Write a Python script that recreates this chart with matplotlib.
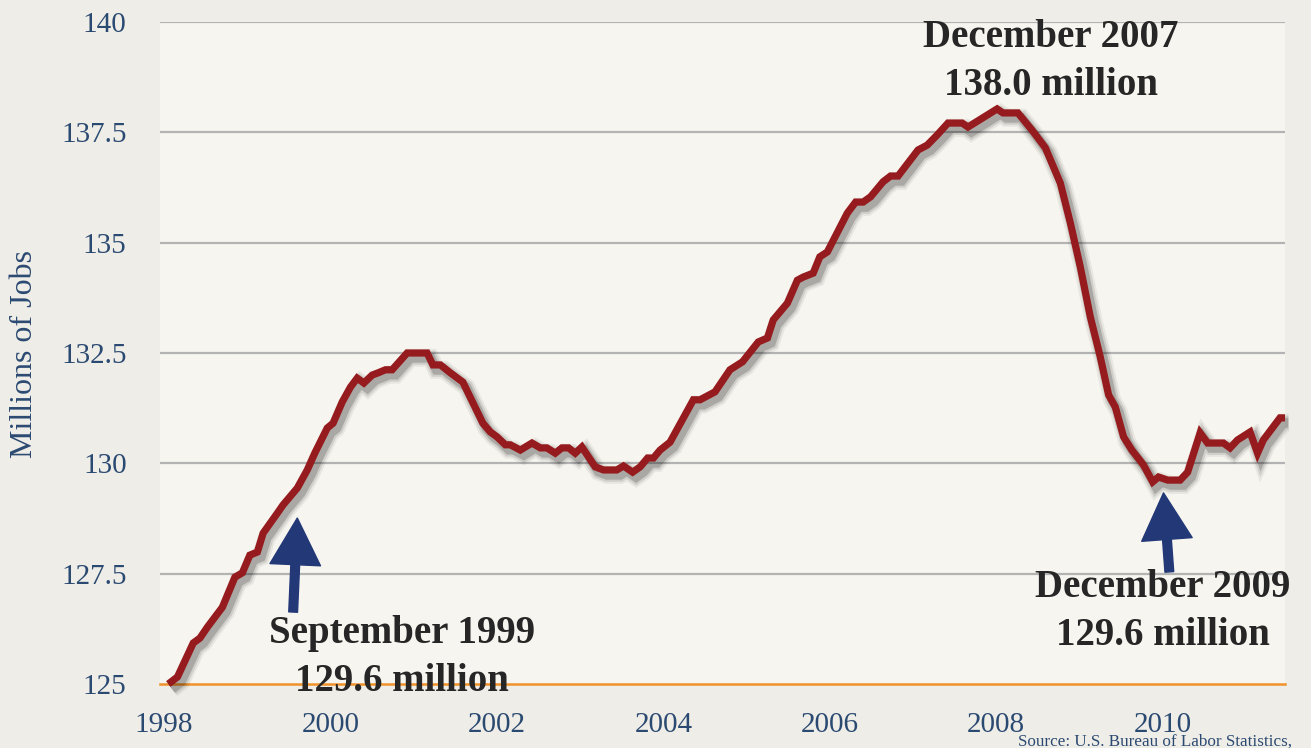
import matplotlib
matplotlib.use("Agg")
import matplotlib.pyplot as plt
import matplotlib.patheffects as pe

# ---- data (decimal year, millions of jobs) ----
years = [1998.05, 1998.16, 1998.35, 1998.43, 1998.52, 1998.70, 1998.85, 1998.94, 1999.03, 1999.12,
         1999.19, 1999.36, 1999.43, 1999.60, 1999.72, 1999.81, 1999.96, 2000.03, 2000.14, 2000.24,
         2000.32, 2000.40, 2000.50, 2000.57, 2000.66, 2000.74, 2000.92, 2001.16, 2001.23, 2001.32,
         2001.44, 2001.59, 2001.83, 2001.92, 2002.00, 2002.10, 2002.16, 2002.28, 2002.42, 2002.52,
         2002.60, 2002.70, 2002.78, 2002.86, 2002.94, 2003.02, 2003.18, 2003.28, 2003.44, 2003.52,
         2003.63, 2003.72, 2003.81, 2003.88, 2003.96, 2004.08, 2004.36, 2004.44, 2004.62, 2004.80,
         2004.95, 2005.14, 2005.25, 2005.32, 2005.49, 2005.61, 2005.68, 2005.80, 2005.88, 2005.97,
         2006.21, 2006.31, 2006.40, 2006.49, 2006.64, 2006.73, 2006.82, 2007.06, 2007.17, 2007.29,
         2007.42, 2007.59, 2007.66, 2008.01, 2008.08, 2008.26, 2008.43, 2008.59, 2008.77, 2008.89,
         2009.01, 2009.13, 2009.25, 2009.35, 2009.43, 2009.53, 2009.63, 2009.77, 2009.88, 2009.95,
         2010.06, 2010.21, 2010.30, 2010.45, 2010.54, 2010.73, 2010.81, 2010.90, 2011.05, 2011.14,
         2011.21, 2011.41, 2011.47]
jobs = [125.00, 125.16, 125.93, 126.04, 126.29, 126.74, 127.42, 127.52, 127.92, 127.99,
        128.42, 128.87, 129.06, 129.44, 129.85, 130.23, 130.80, 130.91, 131.39, 131.73,
        131.93, 131.82, 132.00, 132.05, 132.12, 132.12, 132.50, 132.50, 132.23, 132.23,
        132.05, 131.84, 130.91, 130.71, 130.60, 130.42, 130.42, 130.30, 130.46, 130.35,
        130.35, 130.23, 130.35, 130.35, 130.23, 130.37, 129.92, 129.85, 129.85, 129.94,
        129.80, 129.92, 130.12, 130.12, 130.30, 130.48, 131.44, 131.44, 131.62, 132.12,
        132.30, 132.75, 132.84, 133.25, 133.63, 134.15, 134.22, 134.31, 134.68, 134.79,
        135.67, 135.92, 135.92, 136.04, 136.38, 136.51, 136.51, 137.10, 137.21, 137.44,
        137.71, 137.71, 137.62, 138.03, 137.94, 137.94, 137.55, 137.15, 136.35, 135.45,
        134.45, 133.32, 132.41, 131.55, 131.28, 130.60, 130.30, 129.96, 129.58, 129.69,
        129.62, 129.62, 129.80, 130.69, 130.46, 130.46, 130.35, 130.53, 130.71, 130.23,
        130.53, 131.03, 131.03]

y_ticks = [125, 127.5, 130, 132.5, 135, 137.5, 140]
y_tick_labels = ["125", "127.5", "130", "132.5", "135", "137.5", "140"]
x_ticks = [1998, 2000, 2002, 2004, 2006, 2008, 2010]
x_tick_labels = ["1998", "2000", "2002", "2004", "2006", "2008", "2010"]

notes = ["December 2007\n138.0 million", "September 1999\n129.6 million", "December 2009\n129.6 million"]

# ---- style ----
SERIF = ["Liberation Serif", "DejaVu Serif"]
NAVY = "#2b4a72"
ARROW = "#223877"
LINE = "#951b1e"
TEXT = "#262626"

fig = plt.figure(figsize=(13.11, 7.48), dpi=100)
fig.patch.set_facecolor("#efede7")
ax = fig.add_axes([160/1311, 1-684/748, (1285-160)/1311, (684-22)/748])
ax.set_facecolor("#f7f5ef")

ax.set_xlim(1997.95, 2011.47)
ax.set_ylim(125, 140)

for s in ax.spines.values():
    s.set_visible(False)

for yt in y_ticks[1:]:
    ax.axhline(yt, color="#b3b3b3", lw=1.6, zorder=1)
ax.axhline(y_ticks[0], color="#f0922a", lw=1.8, zorder=2, clip_on=False)

shadow = [pe.SimpleLineShadow(offset=(2.5, -3.5), shadow_color="black", alpha=0.06, linewidth=13),
          pe.SimpleLineShadow(offset=(2.5, -3.5), shadow_color="black", alpha=0.10, linewidth=10),
          pe.SimpleLineShadow(offset=(2.5, -3.5), shadow_color="black", alpha=0.18, linewidth=7),
          pe.Normal()]
ax.plot(years, jobs, color=LINE, lw=5.2, solid_joinstyle="miter", solid_capstyle="butt",
        zorder=3, clip_on=False, path_effects=shadow)

ax.set_yticks(y_ticks)
ax.set_yticklabels(y_tick_labels, family=SERIF, fontsize=21, color=NAVY)
ax.set_xticks(x_ticks)
ax.set_xticklabels(x_tick_labels, family=SERIF, fontsize=21, color=NAVY)
ax.tick_params(axis="both", length=0)
ax.tick_params(axis="y", pad=24)
ax.tick_params(axis="x", pad=20)

fig.text(25/1311, 1-354/748, "Millions of Jobs", rotation=90, ha="center", va="center",
         family=SERIF, fontsize=23, color=NAVY)

# annotations
note_kw = dict(ha="center", va="center", family=SERIF, fontsize=28, fontweight="bold",
               color=TEXT, linespacing=1.4, clip_on=False, zorder=5)
ax.text(2008.66, 139.10, notes[0], **note_kw)
ax.text(2000.86, 125.60, notes[1], **note_kw)
ax.text(2010.00, 126.65, notes[2], **note_kw)

arrow_kw = dict(arrowstyle="simple,head_width=2.6,head_length=2.4,tail_width=0.45",
                color=ARROW, shrinkA=0, shrinkB=0, mutation_scale=14)
ax.annotate("", xy=(1999.60, 128.76), xytext=(1999.55, 126.63),
            arrowprops=arrow_kw, zorder=4)
ax.annotate("", xy=(2010.01, 129.33), xytext=(2010.08, 127.54),
            arrowprops=arrow_kw, zorder=4)

fig.text(1018/1311, 1-742/748, "Source: U.S. Bureau of Labor Statistics,", ha="left",
         va="center", family=SERIF, fontsize=12.3, color=NAVY)

fig.savefig("out.png", dpi=100, facecolor=fig.get_facecolor())
